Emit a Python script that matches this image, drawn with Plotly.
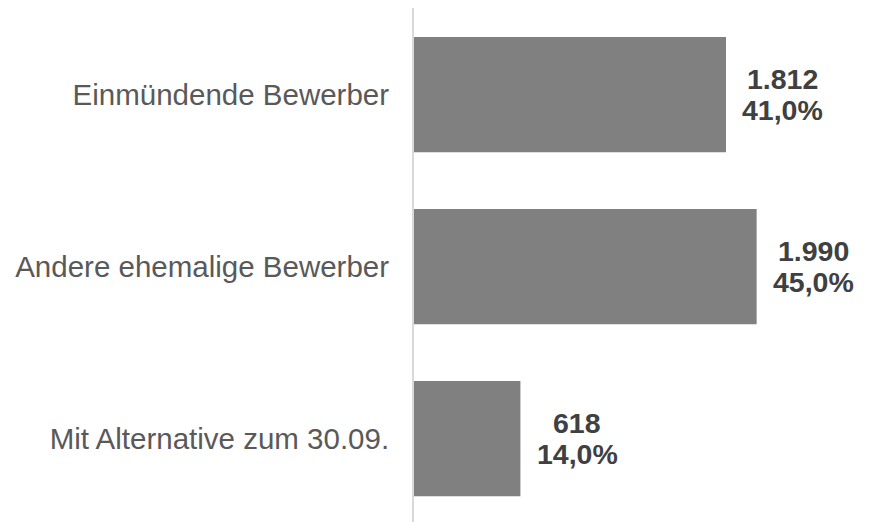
import plotly.graph_objects as go

categories = ["Einmündende Bewerber", "Andere ehemalige Bewerber", "Mit Alternative zum 30.09."]
values = [1812, 1990, 618]
shares = ["41,0%", "45,0%", "14,0%"]
value_labels = ["1.812", "1.990", "618"]

fig = go.Figure()
fig.add_trace(go.Bar(
    y=categories, x=values, orientation="h",
    marker=dict(color="#808080", line=dict(width=0)),
    width=0.67, hoverinfo="skip",
))

lab_font = dict(family="Liberation Sans, Arial", size=28.5, color="#404040")
for c, v, vl, s in zip(categories, values, value_labels, shares):
    fig.add_annotation(
        x=v, y=c, xref="x", yref="y", text=f"<b>{vl}</b>",
        showarrow=False, xanchor="center", yanchor="middle",
        xshift=57, yshift=16, font=lab_font,
    )
    fig.add_annotation(
        x=v, y=c, xref="x", yref="y", text=f"<b>{s}</b>",
        showarrow=False, xanchor="center", yanchor="middle",
        xshift=57, yshift=-15, font=lab_font,
    )

fig.update_layout(
    width=864, height=514,
    margin=dict(l=406, r=0, t=0, b=0),
    paper_bgcolor="white", plot_bgcolor="white",
    showlegend=False,
    xaxis=dict(range=[0, 2660], visible=False, showgrid=False, zeroline=False),
    yaxis=dict(
        type="category", range=[2.485, -0.503],
        showline=True, linecolor="#d9d9d9", linewidth=2,
        showgrid=False, zeroline=False, ticks="",
        ticklabelstandoff=17,
        tickfont=dict(family="Liberation Sans, Arial", size=29.5, color="#595959"),
    ),
)

fig.write_html("out.html")
